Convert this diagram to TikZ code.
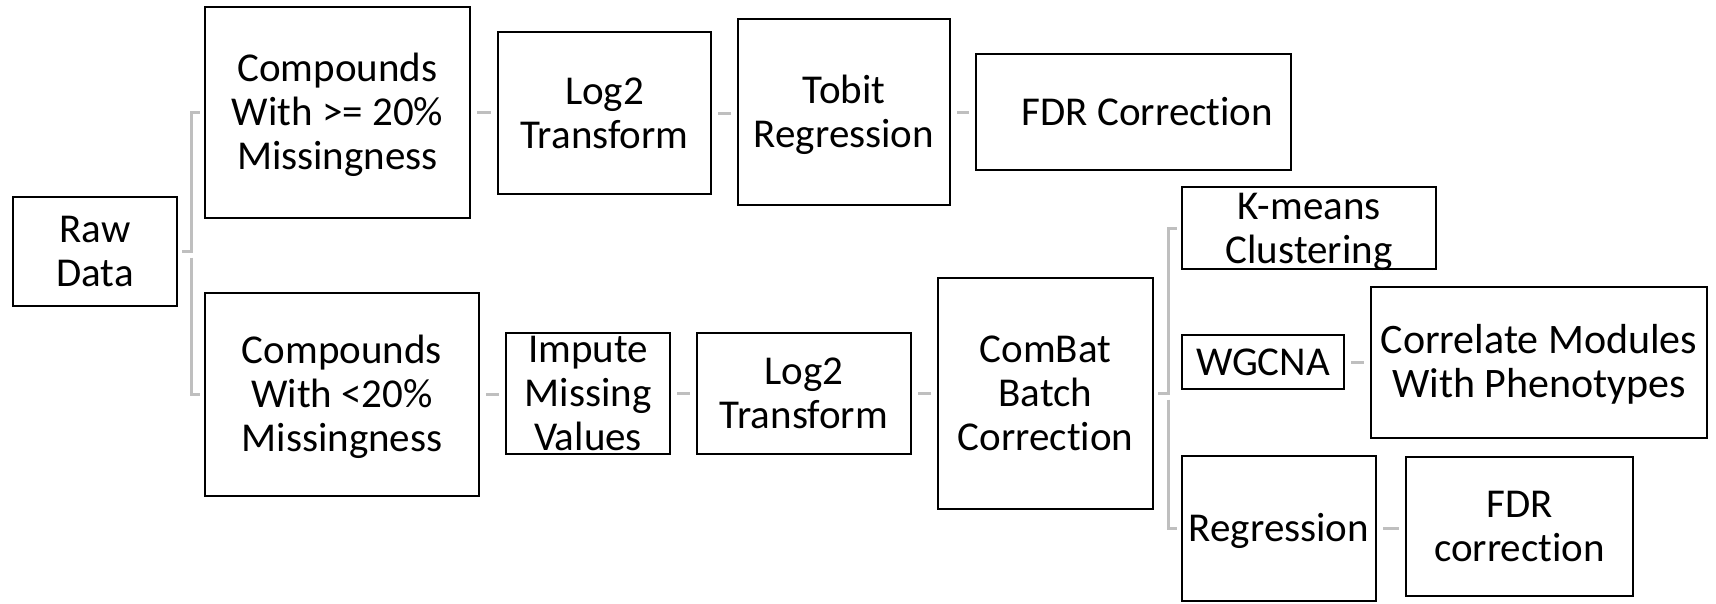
\documentclass[tikz,border=0pt]{standalone}
\usepackage{fontspec}
\setmainfont{Carlito}[Ligatures=NoCommon]
\usetikzlibrary{calc}
\definecolor{linegray}{HTML}{BFBFBF}
% strut that keeps every text block centred the same way
\newcommand\tstrut{\rule[-9pt]{0pt}{44pt}}
\tikzset{
  box/.style={draw=black, line width=2pt, inner sep=0pt, outer sep=0pt},
  lbl/.style={align=center, inner sep=0pt, text=black},
  conn/.style={draw=linegray, line width=3pt},
}
% [font size], name, centre x, centre y, width, height, text
\newcommand\stepbox[7][41]{%
  \node[box, minimum width=#5pt, minimum height=#6pt] (#2) at (#3,#4) {};
  \node[lbl, font=\fontsize{#1pt}{44pt}\selectfont] (#2-t) at (#2.center)
    {\tstrut#7\tstrut};
}
% short grey link between two neighbouring boxes
\newcommand\link[2]{%
  \draw[conn] ($(#1.east)+(7pt,0)$) -- ($(#2.west |- #1.east)+(-7pt,0)$);
}
\begin{document}
\begin{tikzpicture}[x=1pt,y=-1pt]
\useasboundingbox (0,0) rectangle (1716,603);

% upper branch
\stepbox{raw}{95}{251.5}{164}{109}{Raw\\Data}
\stepbox{hi}{337.5}{112.5}{265}{211}{Compounds\\With >= 20\%\\Missingness}
\stepbox{logA}{604.5}{113}{213}{162}{Log2\\Transform}
\stepbox{tobit}{844}{112}{212}{186}{Tobit\\Regression}
% this label sits a little right of the box centre
\node[box, minimum width=315pt, minimum height=116pt] (fdrA) at (1133.5,112) {};
\node[lbl, font=\fontsize{41pt}{44pt}\selectfont] (fdrA-t)
  at ($(fdrA.center)+(14pt,0)$) {\tstrut FDR Correction\tstrut};

% lower branch
\stepbox{lo}{342}{394.5}{274}{203}{Compounds\\With <20\%\\Missingness}
\stepbox{impute}{588}{393.5}{164}{121}{Impute\\Missing\\Values}
\stepbox{logB}{804}{393.5}{214}{121}{Log2\\Transform}
\stepbox{combat}{1045.5}{393.5}{215}{231}{ComBat\\Batch\\Correction}

% analyses after batch correction
\stepbox{kmeans}{1309}{228}{254}{82}{K-means\\Clustering}
\stepbox{wgcna}{1263}{362}{162}{54}{WGCNA}
\stepbox[42]{corr}{1539}{362.5}{336}{151}{Correlate Modules\\With Phenotypes}
\stepbox{regr}{1279}{528.5}{194}{145}{Regression}
\stepbox{fdrB}{1519.5}{526.5}{227}{139}{FDR\\correction}

% brackets from the raw data
\draw[conn] ([xshift=5pt]raw.east) -- ++(9pt,0) |- ([xshift=-5pt]hi.west);
\draw[conn] ($(raw.east)+(14pt,-6pt)$) |- ([xshift=-5pt]lo.west);

% brackets from the batch correction
\draw[conn] ([xshift=5pt]combat.east) -- ++(10pt,0) |- ([xshift=-5pt]kmeans.west);
\draw[conn] ($(combat.east)+(15pt,-6pt)$) |- ([xshift=-5pt]regr.west);

% links along each chain
\link{hi}{logA}
\link{logA}{tobit}
\link{tobit}{fdrA}
\link{lo}{impute}
\link{impute}{logB}
\link{logB}{combat}
\link{wgcna}{corr}
\link{regr}{fdrB}
\end{tikzpicture}
\end{document}
